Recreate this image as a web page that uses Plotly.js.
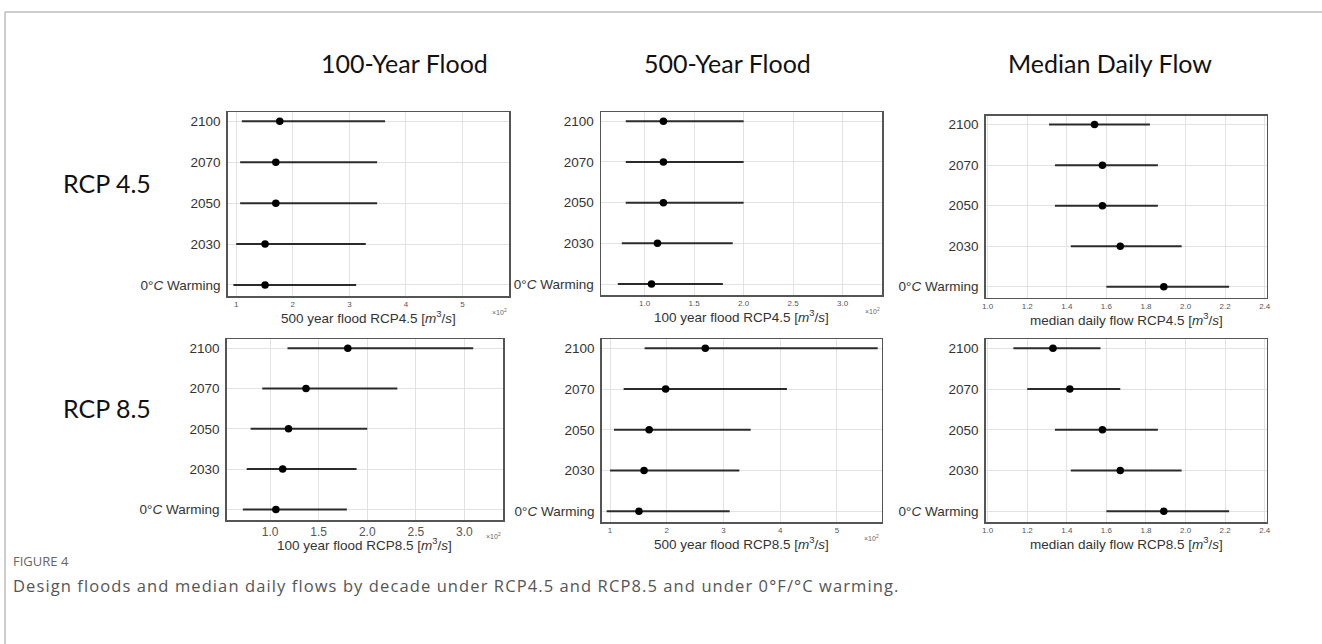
<!DOCTYPE html>
<html>
<head>
<meta charset="utf-8">
<script src="https://cdn.plot.ly/plotly-3.0.1.min.js"></script>
<style>html,body{margin:0;padding:0;background:#fff;}#chart{width:1322px;height:644px;}</style>
</head>
<body>
<div id="chart"></div>
<script>
// Row categories (bottom to top)
const categories = ["0°<i>C</i> Warming", "2030", "2050", "2070", "2100"];

// Top row (RCP 4.5)
const flood500_45_low  = [0.95, 1.00, 1.07, 1.07, 1.10];
const flood500_45_med  = [1.51, 1.51, 1.70, 1.70, 1.77];
const flood500_45_high = [3.12, 3.29, 3.49, 3.49, 3.63];

const flood100_45_low  = [0.73, 0.77, 0.81, 0.81, 0.81];
const flood100_45_med  = [1.07, 1.13, 1.19, 1.19, 1.19];
const flood100_45_high = [1.79, 1.89, 2.00, 2.00, 2.00];

const median_45_low  = [1.60, 1.42, 1.34, 1.34, 1.31];
const median_45_med  = [1.89, 1.67, 1.58, 1.58, 1.54];
const median_45_high = [2.22, 1.98, 1.86, 1.86, 1.82];

// Bottom row (RCP 8.5)
const flood100_85_low  = [0.72, 0.76, 0.80, 0.92, 1.18];
const flood100_85_med  = [1.06, 1.13, 1.19, 1.37, 1.80];
const flood100_85_high = [1.79, 1.89, 2.00, 2.31, 3.09];

const flood500_85_low  = [0.94, 1.00, 1.07, 1.24, 1.61];
const flood500_85_med  = [1.51, 1.60, 1.69, 1.98, 2.68];
const flood500_85_high = [3.11, 3.28, 3.48, 4.12, 5.72];

const median_85_low  = [1.60, 1.42, 1.34, 1.20, 1.13];
const median_85_med  = [1.89, 1.67, 1.58, 1.415, 1.33];
const median_85_high = [2.22, 1.98, 1.86, 1.67, 1.57];

const columnTitles = ["100-Year Flood", "500-Year Flood", "Median Daily Flow"];
const rowTitles = ["RCP 4.5", "RCP 8.5"];
const xTitles = [
  "500 year flood RCP4.5 [<i>m</i><sup>3</sup>/<i>s</i>]",
  "100 year flood RCP4.5 [<i>m</i><sup>3</sup>/<i>s</i>]",
  "median daily flow RCP4.5 [<i>m</i><sup>3</sup>/<i>s</i>]",
  "100 year flood RCP8.5 [<i>m</i><sup>3</sup>/<i>s</i>]",
  "500 year flood RCP8.5 [<i>m</i><sup>3</sup>/<i>s</i>]",
  "median daily flow RCP8.5 [<i>m</i><sup>3</sup>/<i>s</i>]"
];
const captionLabel = "FIGURE 4";
const captionText = "Design floods and median daily flows by decade under RCP4.5 and RCP8.5 and under 0°F/°C warming.";

const W = 1322, H = 644;
const px = v => v / W;
const py = v => 1 - v / H;

// panel boxes in pixels: [left, right, top, bottom]
const boxes = [
  [227.7, 509, 112.3, 296],
  [601, 882.3, 112.3, 295],
  [985.7, 1266.7, 115.7, 297.7],
  [226.7, 503.3, 339.3, 520.3],
  [601.7, 881.7, 339.3, 522.3],
  [985.7, 1266.7, 339.3, 522.3]
];
const xcfg = [
  {range: [0.85, 5.82], dtick: 1, fmt: "d", size: 8, sci: true, tOff: 21},
  {range: [0.56, 3.40], dtick: 0.5, fmt: ".1f", size: 8, sci: true, tOff: 21},
  {range: [0.99, 2.41], dtick: 0.2, fmt: ".1f", size: 8, sci: false, tOff: 21},
  {range: [0.554, 3.40], dtick: 0.5, fmt: ".1f", size: 12, sci: true, tOff: 24},
  {range: [0.853, 5.79], dtick: 1, fmt: "d", size: 8, sci: true, tOff: 21},
  {range: [0.99, 2.41], dtick: 0.2, fmt: ".1f", size: 8, sci: false, tOff: 21}
];
const series = [
  [flood500_45_low, flood500_45_med, flood500_45_high],
  [flood100_45_low, flood100_45_med, flood100_45_high],
  [median_45_low, median_45_med, median_45_high],
  [flood100_85_low, flood100_85_med, flood100_85_high],
  [flood500_85_low, flood500_85_med, flood500_85_high],
  [median_85_low, median_85_med, median_85_high]
];

const yvals = categories.map((c, i) => i);
const traces = [];
const layout = {
  width: W, height: H,
  margin: {l: 0, r: 0, t: 0, b: 0},
  paper_bgcolor: "#fff", plot_bgcolor: "#fff",
  showlegend: false,
  font: {family: "Liberation Sans, Arial, sans-serif", color: "#333"},
  annotations: [], shapes: []
};

series.forEach((s, i) => {
  const [low, med, high] = s;
  const n = i + 1;
  const xa = n === 1 ? "x" : "x" + n;
  const ya = n === 1 ? "y" : "y" + n;
  traces.push({
    type: "scatter", mode: "markers",
    x: med, y: yvals, xaxis: xa, yaxis: ya,
    marker: {color: "#000", size: 7.5},
    error_x: {
      type: "data", symmetric: false,
      array: high.map((h, k) => h - med[k]),
      arrayminus: low.map((l, k) => med[k] - l),
      width: 0, thickness: 2, color: "#2b2b2b"
    },
    hoverinfo: "x+y"
  });
  const b = boxes[i];
  const c = xcfg[i];
  layout["xaxis" + (n === 1 ? "" : n)] = {
    domain: [px(b[0]), px(b[1])],
    anchor: ya, range: c.range, dtick: c.dtick, tick0: 0, tickformat: c.fmt,
    showgrid: true, gridcolor: "#e2e2e2", gridwidth: 1, zeroline: false,
    showline: true, mirror: true, linecolor: "#555", linewidth: 1.5,
    ticks: "", ticklabelstandoff: 0,
    tickfont: {size: c.size, color: "#555", family: "Liberation Sans, Arial, sans-serif"}
  };
  layout["yaxis" + (n === 1 ? "" : n)] = {
    domain: [py(b[3]), py(b[2])],
    anchor: xa, range: [-0.27, 4.22],
    tickvals: yvals, ticktext: categories,
    showgrid: true, gridcolor: "#e2e2e2", gridwidth: 1, zeroline: false,
    showline: true, mirror: true, linecolor: "#555", linewidth: 1.5,
    ticks: "", ticklabelstandoff: 3,
    tickfont: {size: 13.5, color: "#333", family: "Liberation Sans, Arial, sans-serif"}
  };
  // x axis title
  layout.annotations.push({
    xref: "paper", yref: "paper",
    x: px((b[0] + b[1]) / 2), y: py(b[3] + c.tOff),
    xanchor: "center", yanchor: "middle", showarrow: false,
    text: xTitles[i],
    font: {size: 13.5, color: "#333", family: "Liberation Sans, Arial, sans-serif"}
  });
  if (c.sci) {
    layout.annotations.push({
      xref: "paper", yref: "paper",
      x: px(b[1] - 10), y: py(b[3] + 16),
      xanchor: "center", yanchor: "middle", showarrow: false,
      text: "×10<sup>2</sup>",
      font: {size: 7, color: "#666", family: "Liberation Sans, Arial, sans-serif"}
    });
  }
});

// Column titles
const colCenters = [404, 727, 1110];
columnTitles.forEach((t, i) => {
  layout.annotations.push({
    xref: "paper", yref: "paper", x: px(colCenters[i]), y: py(63),
    xanchor: "center", yanchor: "middle", showarrow: false, text: t,
    font: {size: 25, color: "#111", family: "Lato, Noto Sans, sans-serif"}
  });
});
// Row titles
const rowCenters = [183, 408];
rowTitles.forEach((t, i) => {
  layout.annotations.push({
    xref: "paper", yref: "paper", x: px(61), y: py(rowCenters[i]),
    xanchor: "left", yanchor: "middle", showarrow: false, text: t,
    font: {size: 25, color: "#111", family: "Lato, Noto Sans, sans-serif"}
  });
});
// Caption
layout.annotations.push({
  xref: "paper", yref: "paper", x: px(11), y: py(561),
  xanchor: "left", yanchor: "middle", showarrow: false, text: captionLabel,
  font: {size: 13, color: "#666", family: "Open Sans, sans-serif"}
});
layout.annotations.push({
  xref: "paper", yref: "paper", x: px(11), y: py(585),
  xanchor: "left", yanchor: "middle", showarrow: false, text: captionText,
  font: {size: 16.5, color: "#555", family: "Open Sans, sans-serif"}
});
// Outer frame lines
layout.shapes.push({type: "line", xref: "paper", yref: "paper", x0: px(5), x1: 1, y0: py(12), y1: py(12), line: {color: "#bdbdbd", width: 1.5}});
layout.shapes.push({type: "line", xref: "paper", yref: "paper", x0: px(5), x1: px(5), y0: py(12), y1: 0, line: {color: "#bdbdbd", width: 1.5}});

Plotly.newPlot("chart", traces, layout, {displayModeBar: false, staticPlot: true}).then(gd => {
  const texts = gd.querySelectorAll(".annotation-text");
  texts.forEach(t => {
    if (t.textContent === captionText) {
      const bb = t.getBBox();
      t.setAttribute("text-anchor", "start");
      t.setAttribute("x", bb.x);
      t.style.letterSpacing = "1.1px";
    }
  });
});
</script>
</body>
</html>
